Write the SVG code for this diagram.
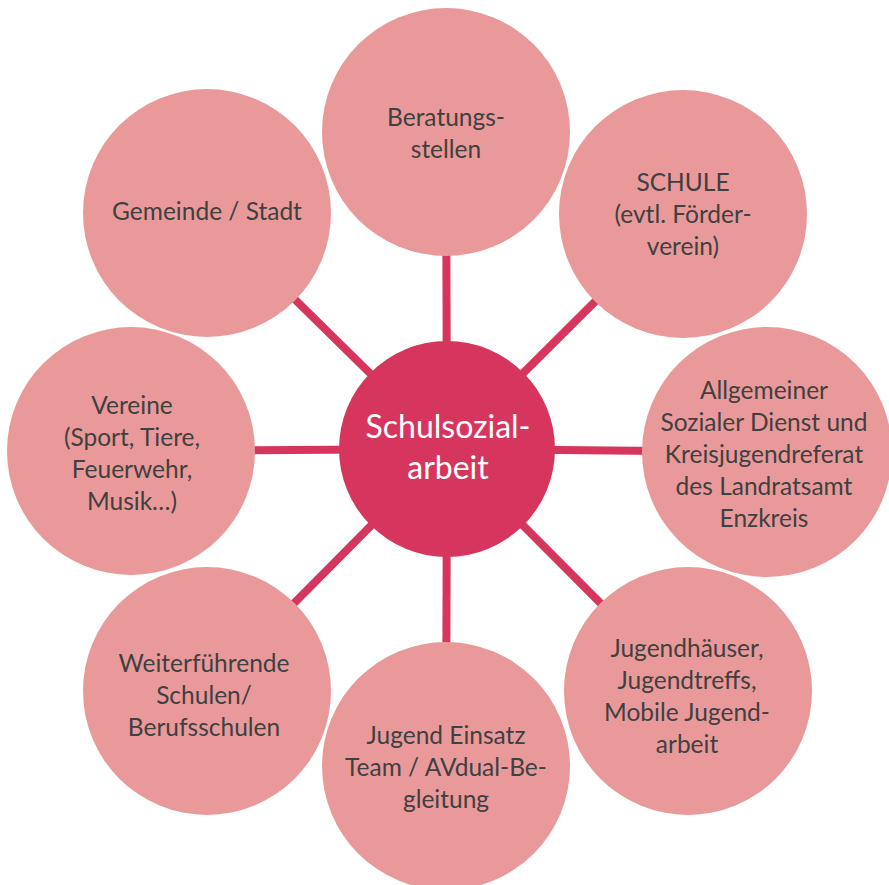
<svg xmlns="http://www.w3.org/2000/svg" width="889" height="885" viewBox="0 0 889 885">
<style>
.n{fill:#EA999B}
.c{fill:#D6365D}
.t{font-family:Lato,"Liberation Sans",sans-serif;font-size:24.5px;fill:#404040;text-anchor:middle}
.w{font-family:Lato,"Liberation Sans",sans-serif;font-size:32px;fill:#FFFFFF;text-anchor:middle}
#connectors line{stroke:#D6365D;stroke-width:8}
</style>
<rect width="889" height="885" fill="#FFFFFF"/>
<g id="connectors">
<line x1="447" y1="449" x2="446" y2="132"/>
<line x1="447" y1="449" x2="683" y2="214"/>
<line x1="447" y1="449" x2="767" y2="452"/>
<line x1="447" y1="449" x2="688" y2="691"/>
<line x1="447" y1="449" x2="446" y2="766"/>
<line x1="447" y1="449" x2="207" y2="691"/>
<line x1="447" y1="449" x2="131" y2="451"/>
<line x1="447" y1="449" x2="207" y2="213"/>
</g>
<g id="beratung">
<circle class="n" cx="446" cy="132" r="124"/>
<text class="t" x="446" y="126">Beratungs-</text>
<text class="t" x="446" y="158">stellen</text>
</g>
<g id="schule">
<circle class="n" cx="683" cy="214" r="124"/>
<text class="t" x="683" y="191">SCHULE</text>
<text class="t" x="683" y="223">(evtl. Förder-</text>
<text class="t" x="683" y="255">verein)</text>
</g>
<g id="asd">
<circle class="n" cx="767" cy="452" r="125"/>
<text class="t" x="764" y="399">Allgemeiner</text>
<text class="t" x="764" y="431">Sozialer Dienst und</text>
<text class="t" x="764" y="463">Kreisjugendreferat</text>
<text class="t" x="764" y="495">des Landratsamt</text>
<text class="t" x="764" y="527">Enzkreis</text>
</g>
<g id="jugendhaeuser">
<circle class="n" cx="688" cy="691" r="124"/>
<text class="t" x="687" y="657">Jugendhäuser,</text>
<text class="t" x="687" y="689">Jugendtreffs,</text>
<text class="t" x="687" y="721">Mobile Jugend-</text>
<text class="t" x="687" y="753">arbeit</text>
</g>
<g id="jugendeinsatz">
<circle class="n" cx="446" cy="766" r="124"/>
<text class="t" x="446" y="744">Jugend Einsatz</text>
<text class="t" x="446" y="776">Team / AVdual-Be-</text>
<text class="t" x="446" y="808">gleitung</text>
</g>
<g id="weiterfuehrende">
<circle class="n" cx="207" cy="691" r="124"/>
<text class="t" x="204" y="672">Weiterführende</text>
<text class="t" x="204" y="704">Schulen/</text>
<text class="t" x="204" y="736">Berufsschulen</text>
</g>
<g id="vereine">
<circle class="n" cx="131" cy="451" r="124"/>
<text class="t" x="132" y="414">Vereine</text>
<text class="t" x="132" y="446">(Sport, Tiere,</text>
<text class="t" x="132" y="478">Feuerwehr,</text>
<text class="t" x="132" y="510">Musik…)</text>
</g>
<g id="gemeinde">
<circle class="n" cx="207" cy="213" r="124"/>
<text class="t" x="207" y="220">Gemeinde / Stadt</text>
</g>
<g id="schulsozialarbeit">
<circle class="c" cx="447" cy="449" r="108"/>
<text class="w" x="448" y="438">Schulsozial-</text>
<text class="w" x="448" y="479">arbeit</text>
</g>
</svg>
